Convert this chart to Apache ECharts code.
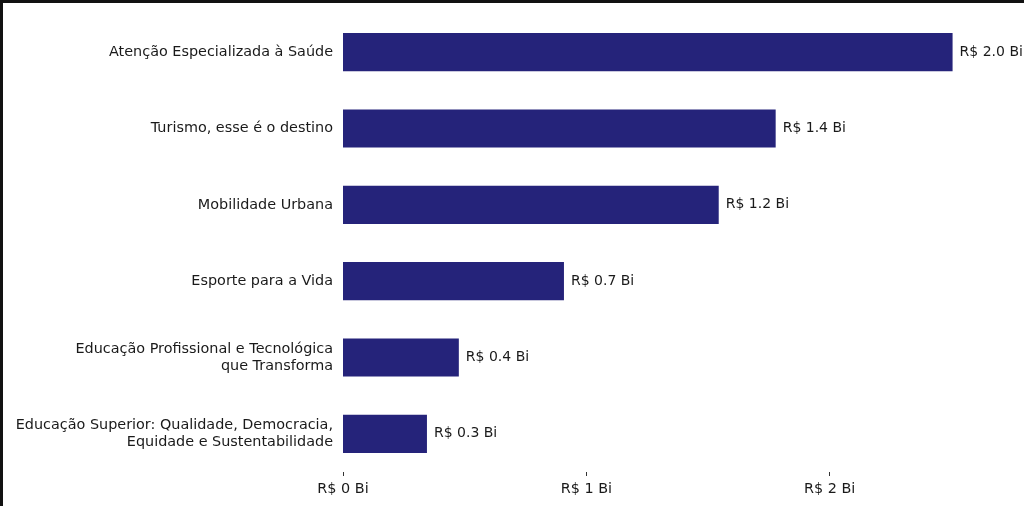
<!DOCTYPE html>
<html>
<head>
<meta charset="utf-8">
<script src="https://cdn.jsdelivr.net/npm/echarts@6/dist/echarts.min.js"></script>
<style>
  html, body { margin: 0; padding: 0; background: #fff; }
  #wrap { position: relative; width: 1024px; height: 506px; overflow: hidden; }
  #main { position: absolute; left: 0; top: 0; width: 1024px; height: 506px; }
  #frame { position: absolute; left: 0; top: 0; width: 1024px; height: 506px;
           border-top: 3px solid #111; border-left: 3px solid #111; box-sizing: border-box;
           pointer-events: none; }
</style>
</head>
<body>
<div id="wrap">
  <div id="main"></div>
  <div id="frame"></div>
</div>
<script>
  // dados (bilhões de R$)
  var categories = [
    'Atenção Especializada à Saúde',
    'Turismo, esse é o destino',
    'Mobilidade Urbana',
    'Esporte para a Vida',
    'Educação Profissional e Tecnológica\nque Transforma',
    'Educação Superior: Qualidade, Democracia,\nEquidade e Sustentabilidade'
  ];
  var values = [2.505, 1.778, 1.544, 0.908, 0.476, 0.345];
  var valueLabels = ['R$ 2.0 Bi', 'R$ 1.4 Bi', 'R$ 1.2 Bi', 'R$ 0.7 Bi', 'R$ 0.4 Bi', 'R$ 0.3 Bi'];
  var tickValues = [0, 1, 2];
  var tickLabels = ['R$ 0 Bi', 'R$ 1 Bi', 'R$ 2 Bi'];

  var font = 'DejaVu Sans';
  var myChart = echarts.init(document.getElementById('main'));
  var option = {
    animation: false,
    textStyle: { fontFamily: font },
    grid: { left: 343, right: 41, top: 14, bottom: 34, containLabel: false },
    xAxis: {
      type: 'value',
      min: 0,
      max: 2.63,
      splitLine: { show: false },
      axisLine: { show: false },
      axisTick: {
        show: true, length: 4, customValues: tickValues,
        lineStyle: { color: '#333', width: 1 }
      },
      axisLabel: {
        customValues: tickValues,
        formatter: function (v) {
          var i = tickValues.indexOf(Math.round(v));
          return i >= 0 ? tickLabels[i] : '';
        },
        color: '#1a1a1a', fontSize: 14.4, fontFamily: font, margin: 10
      }
    },
    yAxis: {
      type: 'category',
      data: categories,
      inverse: true,
      axisLine: { show: false },
      axisTick: { show: false },
      splitLine: { show: false },
      axisLabel: {
        color: '#1a1a1a', fontSize: 14.4, fontFamily: font, margin: 10,
        align: 'right', lineHeight: 17
      }
    },
    series: [{
      type: 'bar',
      data: values,
      barWidth: '50%',
      itemStyle: { color: '#25237a' },
      label: {
        show: true,
        position: 'right',
        distance: 7,
        color: '#1a1a1a',
        fontSize: 14,
        fontFamily: font,
        formatter: function (p) { return valueLabels[p.dataIndex]; }
      }
    }]
  };
  myChart.setOption(option);
</script>
</body>
</html>
